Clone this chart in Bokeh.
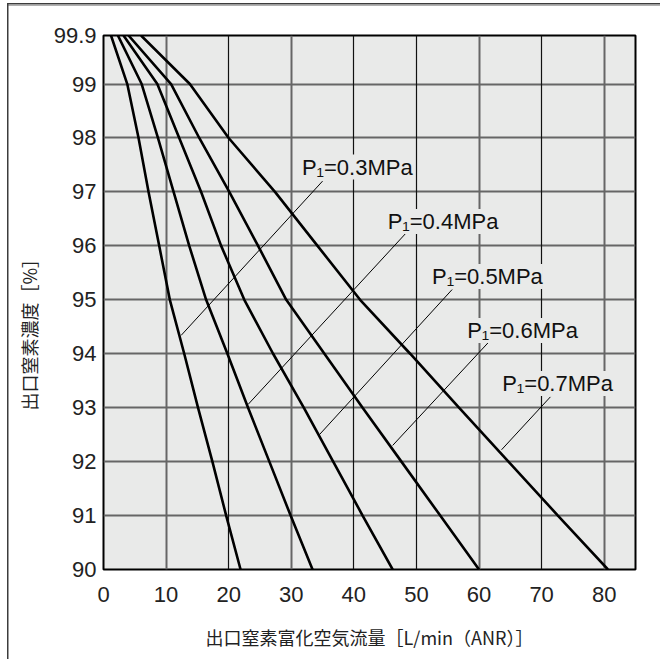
from bokeh.plotting import figure
from bokeh.models import Range1d, FixedTicker, Grid, Label, Title, ColumnDataSource
from bokeh.embed import file_html
from bokeh.resources import INLINE

# ---- data ----
purity = [99.9, 99, 98, 97, 96, 95, 94, 93, 92, 91, 90]
flow_03 = [1.2, 3.8, 5.6, 7.2, 8.9, 10.6, 12.9, 15.1, 17.4, 19.6, 21.9]
flow_04 = [2.3, 6.1, 8.7, 11.2, 13.7, 16.4, 19.8, 23.1, 26.5, 29.9, 33.4]
flow_05 = [3.2, 8.6, 12.1, 15.6, 18.8, 22.5, 27.1, 32.0, 36.7, 41.4, 46.2]
flow_06 = [4.0, 10.8, 15.3, 20.1, 24.7, 29.2, 35.3, 41.4, 47.6, 53.8, 60.0]
flow_07 = [6.0, 13.8, 20.0, 27.4, 34.2, 41.0, 49.0, 56.8, 64.7, 72.6, 80.6]
series = [flow_03, flow_04, flow_05, flow_06, flow_07]

pressure_labels = ["P₁=0.3MPa", "P₁=0.4MPa", "P₁=0.5MPa", "P₁=0.6MPa", "P₁=0.7MPa"]

x_ticks = [0, 10, 20, 30, 40, 50, 60, 70, 80]
y_ticks = [90, 91, 92, 93, 94, 95, 96, 97, 98, 99, 99.9]
y_tick_labels = ["90", "91", "92", "93", "94", "95", "96", "97", "98", "99", "99.9"]

x_title = "出口窒素富化空気流量［L/min（ANR）］"
y_title = "出口窒素濃度［%］"

# annotation placement (label anchor and leader line ends, in data units)
label_pos = [(31.7, 97.46), (45.4, 96.45), (52.5, 95.43), (58.1, 94.43), (63.7, 93.45)]
leader_x0 = [12.4, 23.1, 34.5, 46.2, 63.6]
leader_y0 = [94.34, 93.06, 92.50, 92.30, 92.22]
leader_x1 = [35.0, 48.2, 55.7, 61.5, 71.4]
leader_y1 = [97.20, 96.22, 95.19, 94.21, 93.20]

BG = "#e9eae9"
EDGE = "#3c3c3c"

p = figure(frame_width=532, frame_height=534,
           x_range=Range1d(0, 85), y_range=Range1d(90, 99.9),
           output_backend="svg", toolbar_location=None,
           min_border_left=103, min_border_top=35,
           min_border_right=25, min_border_bottom=90,
           background_fill_color=BG, border_fill_alpha=0,
           styles={"background":
                   f"linear-gradient({EDGE},{EDGE}) 7px 3px / 1.5px 100% no-repeat, "
                   f"linear-gradient({EDGE},{EDGE}) 7px 3px / 100% 1.5px no-repeat, "
                   "linear-gradient(#b0b0b0,#b0b0b0) 7px 4.5px / 100% 1px no-repeat, "
                   "white"})

p.outline_line_color = "black"
p.outline_line_width = 2

# grids
p.xgrid.visible = False
p.ygrid.visible = False
p.add_layout(Grid(dimension=1, ticker=FixedTicker(ticks=y_ticks),
                  grid_line_color="#666666", grid_line_width=2))
p.add_layout(Grid(dimension=0, ticker=FixedTicker(ticks=[10, 30, 60, 80]),
                  grid_line_color="#666666", grid_line_width=2))
p.add_layout(Grid(dimension=0, ticker=FixedTicker(ticks=[20, 40, 50, 70]),
                  grid_line_color="#111111", grid_line_width=1.2))

# axes
for ax in (p.xaxis[0], p.yaxis[0]):
    ax.axis_line_color = None
    ax.major_tick_line_color = None
    ax.minor_tick_line_color = None
    ax.major_tick_out = 0
    ax.major_tick_in = 0
    ax.minor_tick_out = 0
    ax.major_label_text_font = "Liberation Sans"
    ax.major_label_text_font_size = "22px"
    ax.major_label_text_color = "#222222"
    ax.axis_label_text_font = "Noto Sans CJK JP"
    ax.axis_label_text_font_size = "18px"
    ax.axis_label_text_font_style = "normal"
    ax.axis_label_text_color = "#222222"

p.xaxis.ticker = FixedTicker(ticks=x_ticks)
p.xaxis.major_label_standoff = 17
p.xaxis.axis_label = x_title
p.xaxis.axis_label_standoff = 19

p.yaxis.ticker = FixedTicker(ticks=y_ticks)
p.yaxis.major_label_overrides = {t: s for t, s in zip(y_ticks, y_tick_labels)}
p.yaxis.major_label_standoff = 7

# y title as a side title (sits below the frame centre in the reference)
p.add_layout(Title(text=y_title, align="left", offset=159, standoff=16,
                   vertical_align="middle",
                   text_font="Noto Sans CJK JP", text_font_size="18px",
                   text_font_style="normal", text_color="#222222"), "left")

# curves
for flows in series:
    src = ColumnDataSource(dict(x=flows, y=purity))
    p.line("x", "y", source=src, line_color="black", line_width=2.6)

# leader lines
p.segment(x0=leader_x0, y0=leader_y0, x1=leader_x1, y1=leader_y1,
          line_color="black", line_width=1)

# labels
for (lx, ly), txt in zip(label_pos, pressure_labels):
    p.add_layout(Label(x=lx, y=ly, text=txt, text_font="Liberation Sans",
                       text_font_size="22px", text_color="#111111",
                       text_align="left", text_baseline="middle",
                       background_fill_color=BG))

open("out.html", "w").write(file_html(p, INLINE))
